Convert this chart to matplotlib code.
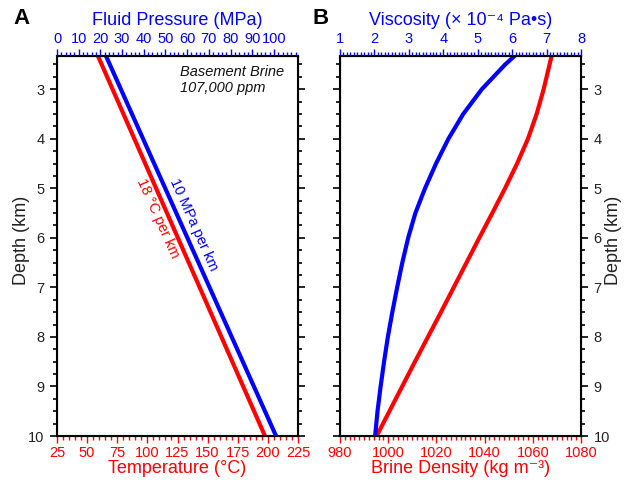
import numpy as np
import matplotlib.pyplot as plt
from matplotlib.ticker import MultipleLocator

plt.rcParams['font.family'] = ['Liberation Sans', 'DejaVu Sans']

# Panel A: temperature and fluid pressure gradients
grad_depth = [2.33, 10.0]
temperature = [59.0, 197.6]      # degC
pressure = [22.6, 101.0]         # MPa

# Panel B: brine viscosity and density with depth
visc_depth = [2.33, 2.5, 3.0, 3.5, 4.0, 4.5, 5.0, 5.5, 6.0, 6.5, 7.0, 7.5, 8.0, 8.5, 9.0, 9.5, 10.0]
viscosity = [6.07, 5.80, 5.12, 4.58, 4.15, 3.79, 3.47, 3.19, 2.98, 2.81, 2.66, 2.52, 2.39,
             2.28, 2.18, 2.09, 2.02]
dens_depth = [2.33, 3.0, 3.5, 4.0, 4.5, 5.0, 5.5, 6.0, 6.5, 7.0, 7.5, 8.0, 8.5, 9.0, 9.5, 10.0]
density = [1067.8, 1064.5, 1061.6, 1058.0, 1053.5, 1048.5, 1043.2, 1037.8, 1032.5, 1027.2,
           1021.9, 1016.5, 1011.1, 1005.8, 1000.5, 995.2]

RED = '#ff0000'
BLUE = '#0000ff'
TXT = '#222222'
W, H = 629, 482

fig = plt.figure(figsize=(W / 100, H / 100), dpi=100)


def style_axes(ax, top, bottom_col, top_col, labels_right):
    for s in ax.spines.values():
        s.set_linewidth(1.5)
    ax.set_ylim(10, 2.33)
    ax.yaxis.set_major_locator(MultipleLocator(1))
    ax.yaxis.set_minor_locator(MultipleLocator(0.25))
    ax.tick_params(axis='y', which='both', left=True, right=True, direction='out',
                   labelleft=not labels_right, labelright=labels_right,
                   labelsize=10.5, labelcolor=TXT, width=1.2, pad=4)
    ax.tick_params(axis='y', which='major', length=5)
    ax.tick_params(axis='y', which='minor', length=3)
    ax.tick_params(axis='x', which='both', direction='out', color=bottom_col,
                   labelcolor=bottom_col, labelsize=10.5, width=1.0, pad=2)
    ax.tick_params(axis='x', which='major', length=5)
    ax.tick_params(axis='x', which='minor', length=3)
    top.tick_params(axis='x', which='both', direction='out', color=top_col,
                    labelcolor=top_col, labelsize=10.5, width=1.0, pad=2)
    top.tick_params(axis='x', which='major', length=5)
    top.tick_params(axis='x', which='minor', length=3)


# ---- Panel A ----
axA = fig.add_axes([57 / W, 1 - 436 / H, 241 / W, 380 / H])
topA = axA.twiny()
axA.plot(temperature, grad_depth, color=RED, lw=3, solid_capstyle='butt')
topA.plot(pressure, grad_depth, color=BLUE, lw=3, solid_capstyle='butt')
axA.set_xlim(25, 225)
topA.set_xlim(0, 200 / 18 * 10)
axA.xaxis.set_major_locator(MultipleLocator(25))
axA.xaxis.set_minor_locator(MultipleLocator(5))
topA.xaxis.set_minor_locator(MultipleLocator(2))
topA.set_xticks(np.arange(0, 101, 10))
style_axes(axA, topA, RED, BLUE, False)
axA.set_xlabel('Temperature (°C)', fontsize=13, color=RED, labelpad=0)
topA.set_xlabel('Fluid Pressure (MPa)', fontsize=13, color=BLUE, labelpad=5)
fig.text(22 / W, 1 - 240 / H, 'Depth (km)', rotation=90, fontsize=13, color=TXT,
         ha='center', va='center')
axA.text(0.51, 0.975, 'Basement Brine\n107,000 ppm', transform=axA.transAxes,
         ha='left', va='top', fontsize=10.5, style='italic', color='#111111',
         linespacing=1.15)
axA.text(138.7, 5.74, '10 MPa per km', color=BLUE, fontsize=10.5, rotation=-66,
         rotation_mode='anchor', ha='center', va='center')
axA.text(108.4, 5.60, '18 °C per km', color=RED, fontsize=10.5, rotation=-66,
         rotation_mode='anchor', ha='center', va='center')
fig.text(13 / W, 1 - 19 / H, 'A', fontsize=16, fontweight='bold', ha='left', va='center')

# ---- Panel B ----
axB = fig.add_axes([340 / W, 1 - 436 / H, 241 / W, 380 / H])
topB = axB.twiny()
axB.plot(density, dens_depth, color=RED, lw=3)
topB.plot(viscosity, visc_depth, color=BLUE, lw=3)
axB.set_xlim(980, 1080)
topB.set_xlim(1, 8)
axB.xaxis.set_major_locator(MultipleLocator(20))
axB.xaxis.set_minor_locator(MultipleLocator(2))
topB.xaxis.set_major_locator(MultipleLocator(1))
topB.xaxis.set_minor_locator(MultipleLocator(0.1))
style_axes(axB, topB, RED, BLUE, True)
axB.set_xlabel('Brine Density (kg m\u207b\u00b3)', fontsize=13, color=RED, labelpad=0)
topB.set_xlabel('Viscosity (× 10\u207b\u2074 Pa\u2022s)', fontsize=13, color=BLUE, labelpad=5)
fig.text(613 / W, 1 - 240 / H, 'Depth (km)', rotation=90, fontsize=13, color=TXT,
         ha='center', va='center')
fig.text(313 / W, 1 - 19 / H, 'B', fontsize=16, fontweight='bold', ha='left', va='center')

fig.savefig('out.png', dpi=100)
